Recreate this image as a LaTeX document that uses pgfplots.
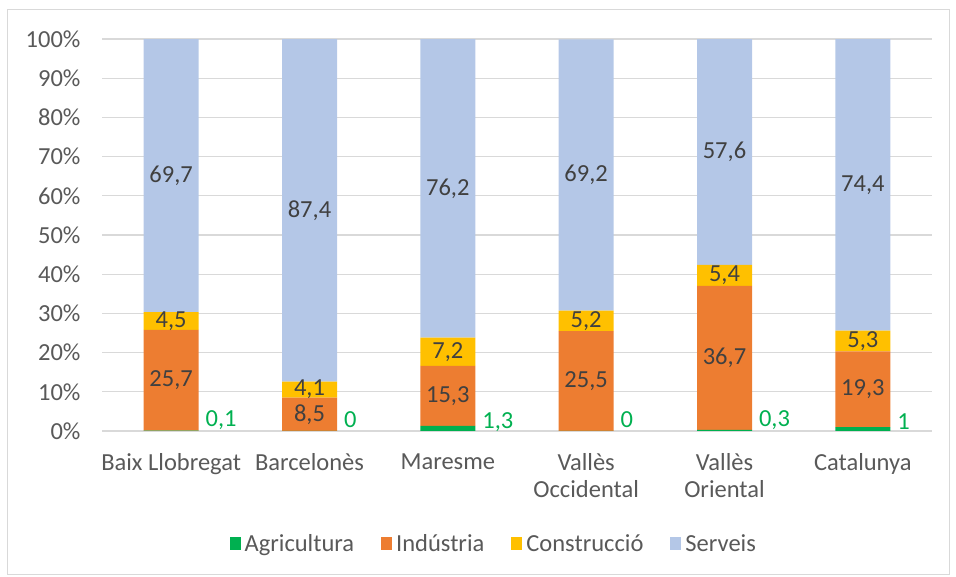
\documentclass[border=0pt]{standalone}
\usepackage{pgfplots}
\pgfplotsset{compat=1.18}
\usepackage{pgfplotstable}
\usepackage{fontspec}
\setmainfont{Carlito}
\definecolor{cAgr}{HTML}{00B050}
\definecolor{cInd}{HTML}{ED7D31}
\definecolor{cCon}{HTML}{FFC000}
\definecolor{cSer}{HTML}{B4C7E7}
\definecolor{gridgray}{HTML}{D9D9D9}
\definecolor{tickgray}{HTML}{595959}
\definecolor{labgray}{HTML}{404040}
\newcommand{\fs}{\fontsize{24.5}{27}\selectfont}
\pgfplotstableread{
x Agr Ind Con Ser AgrL
0 0.1 25.7 4.5 69.7 {0,1}
1 0 8.5 4.1 87.4 0
2 1.3 15.3 7.2 76.2 {1,3}
3 0 25.5 5.2 69.2 0
4 0.3 36.7 5.4 57.6 {0,3}
5 1 19.3 5.3 74.4 1
}\datatable
\pgfplotsset{
  midlabel/.style={
    nodes near coords,
    every node near coord/.append style={anchor=center, text=labgray, font=\fs},
  },
}
\begin{document}
\begin{tikzpicture}
\useasboundingbox (0,0) rectangle (956pt,577pt);
\draw[gridgray, line width=1pt] (7.5pt,2pt) rectangle (949pt,567.5pt);
\begin{axis}[
  at={(102pt,146pt)}, anchor=south west,
  scale only axis, width=830pt, height=392pt,
  ybar stacked, bar width=55pt,
  xmin=-0.5, xmax=5.5, ymin=0, ymax=100.02,
  enlargelimits=false,
  xtick=data,
  xticklabels={Baix Llobregat,Barcelonès,Maresme,{Vallès\\Occidental},{Vallès\\Oriental},Catalunya},
  xticklabel style={align=center, text=tickgray, font=\fs, yshift=-19pt},
  ytick={0,10,...,100},
  yticklabels={0\%,10\%,20\%,30\%,40\%,50\%,60\%,70\%,80\%,90\%,100\%},
  yticklabel style={text=tickgray, font=\fs, xshift=-18pt},
  major tick length=0pt,
  axis lines*=left,
  separate axis lines,
  x axis line style={draw=gridgray, line width=1.3pt},
  y axis line style={draw=none},
  ymajorgrids,
  grid style={draw=gridgray, line width=1.3pt},
  /pgf/number format/.cd, use comma, fixed, precision=1, assume math mode=true,
  /pgfplots/.cd,
  point meta=explicit,
  legend columns=4,
  legend style={at={(0.472,-0.288)}, anchor=center, draw=none, fill=none,
    font=\fs, text=tickgray,
    /tikz/every even column/.append style={column sep=25pt}},
  legend image code/.code={\fill[#1, draw=none] (0pt,-6.5pt) rectangle (11pt,6.5pt); \path (13pt,0pt);},
]
\addplot[fill=cAgr, draw=none, point meta=explicit symbolic,
  visualization depends on={rawy \as \val},
  nodes near coords,
  every node near coord/.append style={anchor=west, xshift=31pt, yshift=-\val*3.92pt+11pt, text=cAgr, font=\fs}]
  table[x=x, y expr=\thisrow{Agr}+0.001, meta=AgrL] {\datatable};
\addlegendentry{Agricultura}
\addplot[fill=cInd, draw=none, midlabel] table[x=x, y=Ind, meta=Ind] {\datatable};
\addlegendentry{Indústria}
\addplot[fill=cCon, draw=none, midlabel] table[x=x, y=Con, meta=Con] {\datatable};
\addlegendentry{Construcció}
\addplot[fill=cSer, draw=none, midlabel] table[x=x, y=Ser, meta=Ser] {\datatable};
\addlegendentry{Serveis}
\end{axis}
\end{tikzpicture}
\end{document}
